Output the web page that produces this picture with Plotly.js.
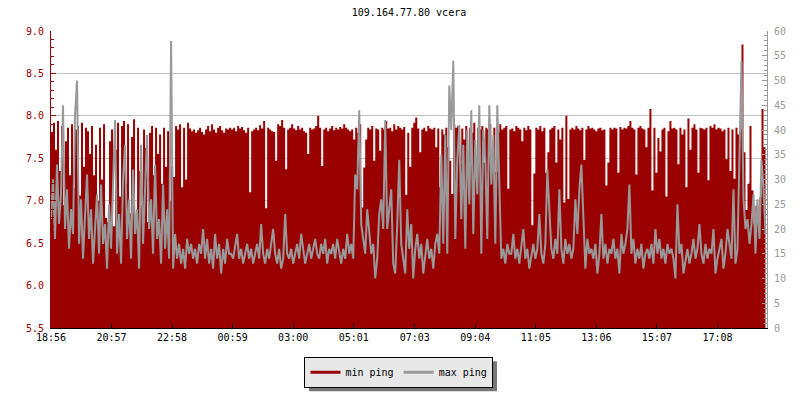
<!DOCTYPE html>
<html>
<head>
<meta charset="utf-8">
<script src="https://cdn.plot.ly/plotly-3.0.1.min.js"></script>
<style>
  html, body { margin: 0; padding: 0; background: #fff; }
  #chart { width: 800px; height: 400px; }
</style>
</head>
<body>
<div id="chart"></div>
<script>
// Minutes since 18:56, one sample every 4 minutes
const startMinute = 0;
const stepMinutes = 4;

const tickMinutes = [0, 121, 242, 363, 484, 605, 727, 848, 969, 1090, 1211, 1332];
const tickLabels = ["18:56", "20:57", "22:58", "00:59", "03:00", "05:01", "07:03", "09:04", "11:05", "13:06", "15:07", "17:08"];

const seriesNames = ["min ping", "max ping"];

// min ping (left axis)
const minPing = [
7.80,7.92,7.60,7.94,7.35,7.88,6.95,7.70,7.86,7.30,
7.90,7.15,7.84,7.88,7.06,7.92,7.40,7.86,7.82,7.55,
7.88,7.30,7.66,7.00,7.86,7.25,7.90,6.80,6.75,7.70,
7.84,6.70,7.60,7.92,7.05,7.88,7.94,7.20,7.90,6.85,
7.75,7.96,6.72,7.86,7.35,6.95,7.84,7.62,6.75,7.80,
7.88,7.30,7.86,7.55,7.78,7.20,7.86,7.40,7.82,7.00,
7.40,7.28,7.88,7.84,7.90,7.16,7.86,7.25,7.92,7.85,
7.82,7.84,7.80,7.83,7.86,7.81,7.78,7.84,7.88,7.82,
7.90,7.84,7.80,7.86,7.88,7.83,7.80,7.85,7.84,7.86,
7.84,7.86,7.82,7.88,7.85,7.87,7.83,7.80,7.86,7.10,
7.82,7.84,7.86,7.83,7.89,7.85,7.94,6.91,7.86,7.84,
7.82,7.81,7.47,7.90,7.88,7.95,7.86,7.37,7.84,7.86,
7.90,7.85,7.83,7.88,7.84,7.86,7.82,7.80,7.55,7.86,
7.84,7.85,7.88,8.00,7.86,7.41,7.84,7.86,7.82,7.85,
7.88,7.83,7.86,7.84,7.87,7.85,7.90,7.86,7.84,7.82,
7.84,7.72,7.86,7.80,7.90,6.92,7.39,7.72,7.86,7.84,
7.88,7.47,7.85,7.84,7.59,7.86,7.84,7.94,7.85,7.86,
7.82,7.90,7.84,7.88,7.86,7.84,7.87,7.07,7.80,7.40,
7.86,7.92,7.98,7.85,7.57,7.84,7.86,7.82,7.88,7.85,
7.84,7.86,7.63,7.85,7.16,7.84,7.78,7.86,7.63,7.47,
7.08,7.90,7.86,7.88,7.43,7.85,7.72,7.88,7.39,7.86,
7.80,7.92,7.28,7.86,7.84,7.88,7.45,7.86,7.84,7.90,
7.55,7.86,7.34,7.80,7.90,7.84,7.86,7.88,7.14,7.84,
7.85,7.82,7.88,7.86,7.84,7.70,7.86,7.83,7.88,7.84,
6.71,7.32,7.86,7.84,7.88,7.82,7.86,7.33,7.57,7.84,
7.86,7.88,7.45,7.84,7.72,7.86,6.98,8.00,7.02,7.84,
7.86,7.84,7.88,7.85,7.83,7.86,7.48,7.84,7.88,7.85,
7.86,7.84,7.82,7.85,7.86,7.83,7.84,7.18,7.45,7.86,
7.84,7.86,7.85,7.33,7.87,7.84,7.86,7.85,7.88,7.94,
7.86,7.84,7.31,7.86,7.88,7.85,7.84,7.63,7.86,8.08,
7.12,7.86,7.33,7.74,7.58,7.84,7.86,7.05,7.82,7.94,
7.85,7.86,7.84,7.43,7.86,7.78,7.84,7.16,7.97,7.60,
7.86,7.90,7.84,7.33,7.86,7.85,7.84,7.86,7.24,7.88,
7.86,7.90,7.84,7.86,7.85,7.82,7.84,7.49,7.86,7.35,
7.84,7.26,7.86,7.78,7.84,8.84,7.57,6.89,7.20,7.88,
7.12,6.73,6.94,6.80,7.04,8.08,7.63,6.90
];

// max ping (right axis)
const maxPing = [
22,30,18,33,21,27,45,20,28,16,
24,19,43,50,17,26,14,22,31,18,
24,13,20,27,15,29,17,21,12,25,
16,28,42,15,23,13,30,37,18,26,
14,32,19,24,12,37,17,28,39,20,
26,15,33,18,22,13,29,16,24,14,
58,12,19,14,17,13,16,12,18,15,
17,14,16,13,17,15,20,14,18,13,
16,12,19,14,17,11,16,13,18,15,
15,14,17,19,14,16,13,15,17,14,
16,13,15,17,14,21,15,13,16,14,
17,20,15,13,16,12,14,23,15,14,
16,13,15,17,14,19,16,13,15,17,
14,16,18,15,14,17,15,18,13,16,
15,17,14,18,15,13,16,14,19,15,
17,14,31,28,44,21,18,15,24,19,
15,17,10,14,23,26,20,42,20,24,
28,13,11,21,34,17,14,11,24,16,
21,10,16,19,14,17,11,15,18,14,
16,12,17,19,15,35,17,39,15,49,
40,54,18,34,41,22,37,16,40,25,
44,19,38,27,45,15,40,34,18,45,
29,39,17,45,30,14,16,13,17,15,
15,19,14,16,13,17,20,14,16,12,
15,17,14,16,23,15,13,17,32,24,
16,14,18,15,28,16,13,18,15,17,
14,16,26,19,28,33,24,12,18,15,
16,14,17,11,15,23,14,17,13,16,
15,18,14,16,11,19,15,17,20,29,
15,18,13,16,14,17,12,15,16,14,
17,13,20,15,18,14,16,13,17,15,
16,14,10,25,15,17,11,14,16,13,
15,18,14,16,21,15,13,17,14,16,
15,20,11,14,16,18,12,15,20,17,
14,28,13,16,36,54,26,20,22,17,
21,27,15,26,18,34,28,19
];

const RED = '#990000';
const GRAY = '#999999';
const FONT = 'DejaVu Sans Mono, monospace';

const data = [
  {
    type: 'scatter', mode: 'lines', name: seriesNames[0],
    x0: startMinute, dx: stepMinutes, y: minPing, yaxis: 'y',
    line: { color: RED, width: 0, shape: 'hv' },
    fill: 'tozeroy', fillcolor: RED,
    showlegend: false, hoverinfo: 'skip'
  },
  {
    type: 'scatter', mode: 'lines', name: seriesNames[1],
    x0: startMinute, dx: stepMinutes, y: maxPing, yaxis: 'y2',
    line: { color: GRAY, width: 2, shape: 'linear' },
    showlegend: false, hoverinfo: 'skip'
  },
  // legend entries
  { type: 'scatter', mode: 'lines', name: seriesNames[0], x: [null], y: [null],
    line: { color: RED, width: 3 }, showlegend: true },
  { type: 'scatter', mode: 'lines', name: seriesNames[1], x: [null], y: [null],
    line: { color: GRAY, width: 3 }, showlegend: true }
];

const layout = {
  width: 800, height: 400,
  margin: { l: 51, r: 33, t: 31, b: 70, pad: 0 },
  paper_bgcolor: '#ffffff', plot_bgcolor: '#ffffff',
  font: { family: FONT, size: 10, color: '#000' },
  title: {
    text: '109.164.77.80 vcera',
    font: { family: FONT, size: 10, color: '#000' },
    xref: 'paper', x: 0.5, xanchor: 'center',
    yref: 'container', y: 0.968, yanchor: 'middle'
  },
  xaxis: {
    range: [0, 1431],
    tickmode: 'array', tickvals: tickMinutes, ticktext: tickLabels,
    ticks: 'inside', ticklen: 4, tickcolor: '#000', tickwidth: 1,
    showline: true, linecolor: '#000', linewidth: 1,
    showgrid: false, zeroline: false,
    tickfont: { family: FONT, size: 10, color: '#000' },
    fixedrange: true
  },
  yaxis: {
    range: [5.5, 9.0], tick0: 5.5, dtick: 0.5, tickformat: '.1f',
    ticks: 'inside', ticklen: 5, tickcolor: RED, tickwidth: 1,
    showline: true, linecolor: RED, linewidth: 1,
    showgrid: true, gridcolor: '#c0c0c0', gridwidth: 1,
    zeroline: false,
    tickfont: { family: FONT, size: 10, color: RED },
    ticklabelstandoff: 4,
    minor: { dtick: 0.1, ticks: 'inside', ticklen: 3, tickcolor: RED, showgrid: false },
    fixedrange: true
  },
  yaxis2: {
    overlaying: 'y', side: 'right',
    range: [0, 60], tick0: 0, dtick: 5,
    ticks: 'inside', ticklen: 5, tickcolor: GRAY, tickwidth: 1,
    showline: true, linecolor: GRAY, linewidth: 1,
    showgrid: false, zeroline: false,
    tickfont: { family: FONT, size: 10, color: GRAY },
    ticklabelstandoff: 4,
    minor: { dtick: 1, ticks: 'inside', ticklen: 3, tickcolor: GRAY, showgrid: false },
    fixedrange: true
  },
  showlegend: true,
  legend: {
    orientation: 'h',
    x: 0.486, xanchor: 'center',
    y: -0.097, yanchor: 'top',
    bgcolor: '#e8e8e8', bordercolor: '#000', borderwidth: 1,
    font: { family: FONT, size: 10, color: '#000' },
    itemwidth: 30, tracegroupgap: 0
  }
};

Plotly.newPlot('chart', data, layout, { staticPlot: true, displayModeBar: false }).then(function (gd) {
  const bg = gd.querySelector('.legend .bg');
  if (!bg) return;
  const r = bg.getBoundingClientRect();
  const g = gd.getBoundingClientRect();
  const fs = gd._fullLayout._size;
  const px = v => (v - fs.l) / fs.w;
  const py = v => 1 - (v - fs.t) / fs.h;
  const L = r.left - g.left, T = r.top - g.top, R = r.right - g.left, B = r.bottom - g.top;
  return Plotly.relayout(gd, {
    shapes: [{
      type: 'rect', xref: 'paper', yref: 'paper',
      x0: px(L + 4), x1: px(R + 4), y0: py(B + 4), y1: py(T + 4),
      fillcolor: '#777777', line: { width: 0 }, layer: 'above'
    }]
  });
});
</script>
</body>
</html>
